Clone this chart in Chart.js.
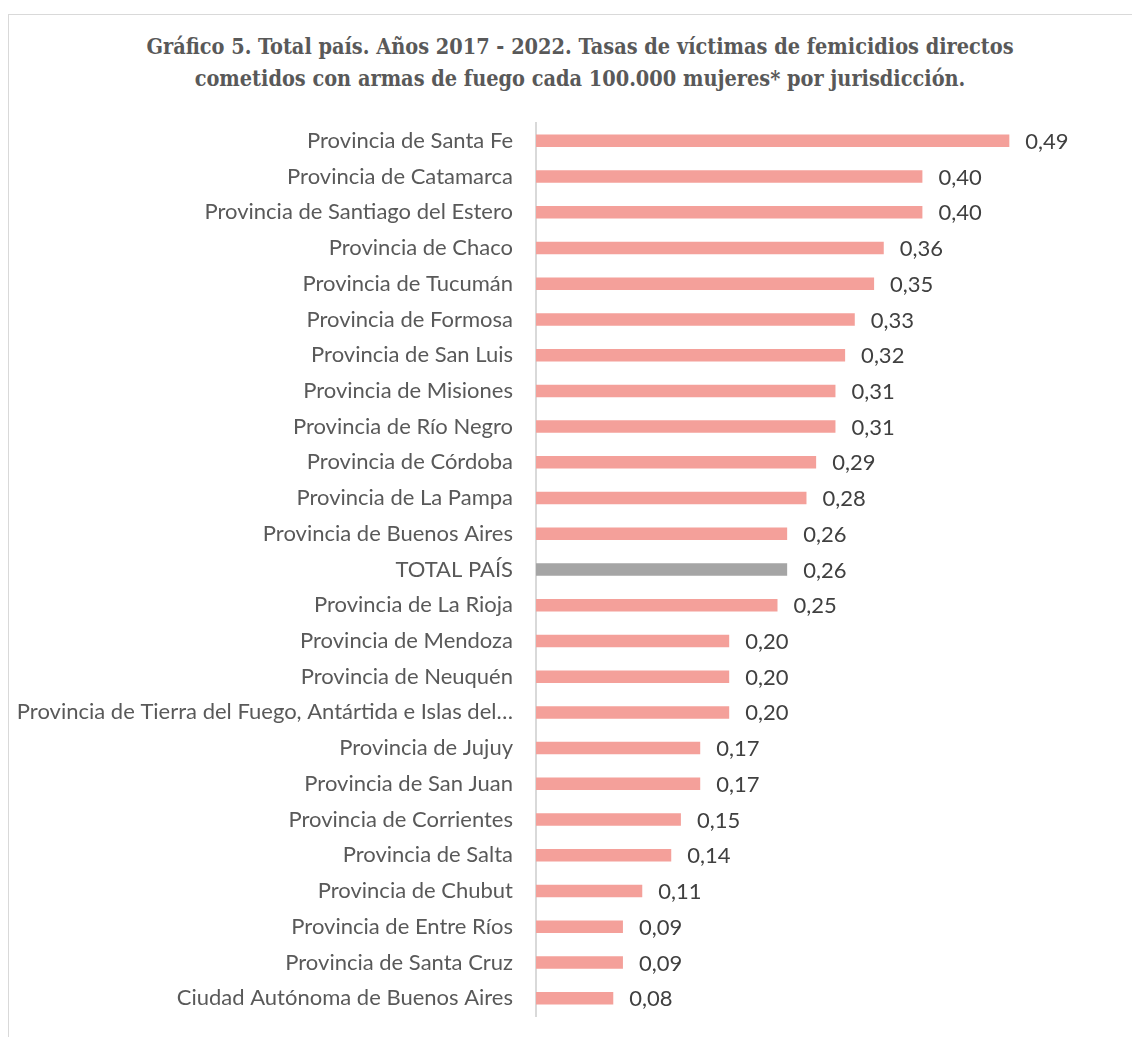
<!DOCTYPE html>
<html>
<head>
<meta charset="utf-8">
<script src="https://cdn.jsdelivr.net/npm/chart.js@4.4.1/dist/chart.umd.min.js"></script>
<style>
  html, body { margin: 0; padding: 0; background: #fff; }
  #wrap { position: relative; width: 1132px; height: 1037px; overflow: hidden; }
  #frame { position: absolute; left: 8px; top: 14px; width: 1140px; height: 1040px; border: 1px solid #d9d9d9; box-sizing: border-box; }
  #titulo { position: absolute; left: 0; top: 31px; width: 1160px; text-align: center;
            font-family: 'DejaVu Serif Condensed', 'DejaVu Serif', serif; font-weight: bold;
            font-size: 21.5px; line-height: 32px; color: #595959; }
  #chart { position: absolute; left: 0; top: 0; }
</style>
</head>
<body>
<div id="wrap">
  <div id="frame"></div>
  <div id="titulo">Gráfico 5. Total país. Años 2017 - 2022. Tasas de víctimas de femicidios directos<br>cometidos con armas de fuego cada 100.000 mujeres* por jurisdicción.</div>
  <canvas id="chart" width="1132" height="1037"></canvas>
</div>
<script>
// jurisdicciones, de mayor a menor tasa
const jurisdicciones = [
    'Provincia de Santa Fe',
    'Provincia de Catamarca',
    'Provincia de Santiago del Estero',
    'Provincia de Chaco',
    'Provincia de Tucumán',
    'Provincia de Formosa',
    'Provincia de San Luis',
    'Provincia de Misiones',
    'Provincia de Río Negro',
    'Provincia de Córdoba',
    'Provincia de La Pampa',
    'Provincia de Buenos Aires',
    'TOTAL PAÍS',
    'Provincia de La Rioja',
    'Provincia de Mendoza',
    'Provincia de Neuquén',
    'Provincia de Tierra del Fuego, Antártida e Islas del Atlántico Sur',
    'Provincia de Jujuy',
    'Provincia de San Juan',
    'Provincia de Corrientes',
    'Provincia de Salta',
    'Provincia de Chubut',
    'Provincia de Entre Ríos',
    'Provincia de Santa Cruz',
    'Ciudad Autónoma de Buenos Aires'
];
// tasas cada 100.000 mujeres
const tasas = [0.49, 0.40, 0.40, 0.36, 0.35, 0.33, 0.32, 0.31, 0.31, 0.29, 0.28, 0.26, 0.26,
    0.25, 0.20, 0.20, 0.20, 0.17, 0.17, 0.15, 0.14, 0.11, 0.09, 0.09, 0.08];

const colorBarra = '#F4A09A';
const colorTotal = '#A5A5A5';
const coloresBarras = jurisdicciones.map(j => j === 'TOTAL PAÍS' ? colorTotal : colorBarra);

// etiquetas de valor al final de cada barra (0,49 etc)
const valorLabels = {
    id: 'valorLabels',
    afterDatasetsDraw(chart) {
        const ctx = chart.ctx;
        const meta = chart.getDatasetMeta(0);
        ctx.save();
        ctx.font = '22px Lato';
        ctx.fillStyle = '#404040';
        ctx.textAlign = 'left';
        ctx.textBaseline = 'middle';
        meta.data.forEach((bar, i) => {
            const txt = tasas[i].toFixed(2).replace('.', ',');
            ctx.fillText(txt, bar.x + 16, bar.y + 1);
        });
        ctx.restore();
    }
};

const ctx = document.getElementById('chart').getContext('2d');
new Chart(ctx, {
    type: 'bar',
    data: {
        labels: jurisdicciones,
        datasets: [{
            data: tasas,
            backgroundColor: coloresBarras,
            categoryPercentage: 1,
            barPercentage: 0.35
        }]
    },
    options: {
        indexAxis: 'y',
        responsive: false,
        animation: false,
        layout: { padding: { left: 0, right: 113, top: 123, bottom: 21 } },
        plugins: {
            legend: { display: false },
            tooltip: { enabled: false },
            title: { display: false }
        },
        scales: {
            x: {
                display: false,
                min: 0,
                max: 0.5
            },
            y: {
                grid: { display: false },
                border: { display: true, color: '#d9d9d9', width: 2 },
                ticks: {
                    color: '#595959',
                    font: { family: 'Lato', size: 22 },
                    padding: 15,
                    autoSkip: false,
                    callback: function (v) {
                        const s = this.getLabelForValue(v);
                        return s.length > 52 ? s.slice(0, 52) + '…' : s;
                    }
                },
                afterFit(scale) {
                    scale.width = 536;
                    // sin margen extra arriba/abajo por las etiquetas
                    scale.paddingTop = 0;
                    scale.paddingBottom = 0;
                }
            }
        }
    },
    plugins: [valorLabels]
});
</script>
</body>
</html>
